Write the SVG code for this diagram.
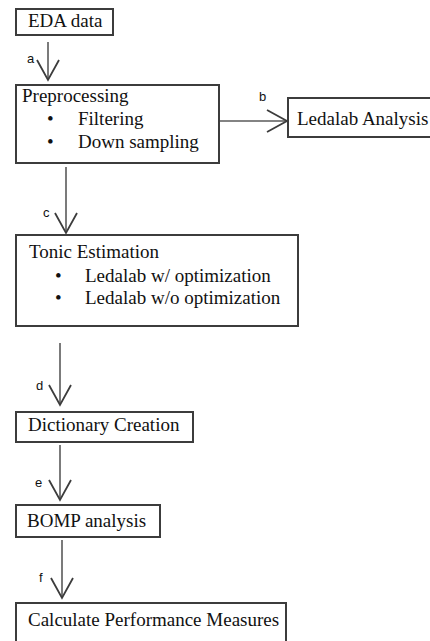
<svg xmlns="http://www.w3.org/2000/svg" width="430" height="641" viewBox="0 0 430 641">
<style>
.box{fill:#fff;stroke:#3c3c3c;stroke-width:2}
.t{font-family:"Liberation Serif","Times New Roman",serif;font-size:19px;fill:#111}
.lbl{font-family:"Liberation Sans",Arial,sans-serif;font-size:13px;fill:#111}
.ln{fill:none;stroke:#5a5a5a;stroke-width:1.6}
</style>
<defs>
<marker id="v" viewBox="0 0 24 24" refX="22" refY="12" markerWidth="24" markerHeight="24" markerUnits="userSpaceOnUse" orient="auto">
<path d="M2,1 L22,12 L2,23" fill="none" stroke="#3c3c3c" stroke-width="1.8"/>
</marker>
</defs>
<rect width="430" height="641" fill="#fff"/>
<g id="connectors">
<line class="ln" x1="48" y1="42" x2="48" y2="80" marker-end="url(#v)"/>
<line class="ln" x1="219" y1="121" x2="287" y2="121" marker-end="url(#v)"/>
<line class="ln" x1="66" y1="167" x2="66" y2="233" marker-end="url(#v)"/>
<line class="ln" x1="60" y1="343" x2="60" y2="405" marker-end="url(#v)"/>
<line class="ln" x1="60" y1="445" x2="60" y2="500" marker-end="url(#v)"/>
<line class="ln" x1="62" y1="540" x2="62" y2="598" marker-end="url(#v)"/>
<text class="lbl" x="27" y="63">a</text>
<text class="lbl" x="259" y="101">b</text>
<text class="lbl" x="43" y="217">c</text>
<text class="lbl" x="36" y="390">d</text>
<text class="lbl" x="35" y="487">e</text>
<text class="lbl" x="39" y="582">f</text>
</g>
<g id="eda">
<rect class="box" x="16" y="9" width="97" height="26"/>
<text class="t" x="28" y="27">EDA data</text>
</g>
<g id="preprocessing">
<rect class="box" x="16" y="85" width="203" height="78"/>
<text class="t" x="22" y="102">Preprocessing</text>
<text class="t" x="47" y="125">•</text>
<text class="t" x="78" y="125">Filtering</text>
<text class="t" x="47" y="148">•</text>
<text class="t" x="78" y="148">Down sampling</text>
</g>
<g id="ledalab">
<rect class="box" x="288" y="98" width="150" height="39"/>
<text class="t" x="297" y="125">Ledalab Analysis</text>
</g>
<g id="tonic">
<rect class="box" x="16" y="235" width="282" height="91"/>
<text class="t" x="29" y="258">Tonic Estimation</text>
<text class="t" x="55" y="282">•</text>
<text class="t" x="85" y="282">Ledalab w/ optimization</text>
<text class="t" x="55" y="304">•</text>
<text class="t" x="85" y="304">Ledalab w/o optimization</text>
</g>
<g id="dictionary">
<rect class="box" x="16" y="412" width="177" height="30"/>
<text class="t" x="28" y="431">Dictionary Creation</text>
</g>
<g id="bomp">
<rect class="box" x="16" y="505" width="144" height="32"/>
<text class="t" x="27" y="527">BOMP analysis</text>
</g>
<g id="calculate">
<rect class="box" x="16" y="603" width="270" height="50"/>
<text class="t" x="28" y="626">Calculate Performance Measures</text>
</g>
</svg>
